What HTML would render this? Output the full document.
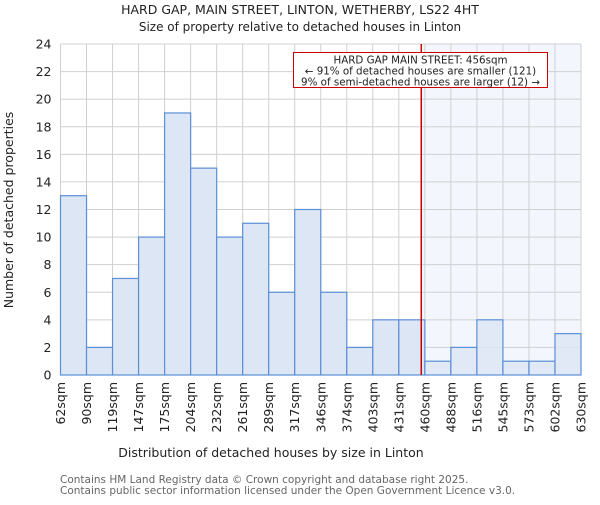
<!DOCTYPE html>
<html><head><meta charset="utf-8"><style>
body{margin:0;background:#fff;}
svg text{font-family:"DejaVu Sans","Liberation Sans",sans-serif;fill:#222;}
</style></head><body>
<svg id="chart" width="600" height="500">
<text x="300" y="14" text-anchor="middle" font-size="12.5">HARD GAP, MAIN STREET, LINTON, WETHERBY, LS22 4HT</text>
<text x="300" y="31" text-anchor="middle" font-size="12">Size of property relative to detached houses in Linton</text>
<g id="plot"></g>
<text x="271" y="457" text-anchor="middle" font-size="12.5">Distribution of detached houses by size in Linton</text>
<text transform="translate(13,210) rotate(-90)" text-anchor="middle" font-size="12.5">Number of detached properties</text>
<text x="60" y="483" font-size="10.5" style="fill:#666">Contains HM Land Registry data © Crown copyright and database right 2025.</text>
<text x="60" y="494" font-size="10.5" style="fill:#666">Contains public sector information licensed under the Open Government Licence v3.0.</text>
</svg>
<script>
const binEdges=[62,90,119,147,175,204,232,261,289,317,346,374,403,431,460,488,516,545,573,602,630];
const counts=[13,2,7,10,19,15,10,11,6,12,6,2,4,4,1,2,4,1,1,3];
const yTicks=[0,2,4,6,8,10,12,14,16,18,20,22,24];
const markerValue=456;
const annotationLines=["HARD GAP MAIN STREET: 456sqm","← 91% of detached houses are smaller (121)","9% of semi-detached houses are larger (12) →"];
const NS="http://www.w3.org/2000/svg";
const g=document.getElementById('plot');
const X0=60.5,X1=581,Y0=375,Y1=44;
const nb=counts.length;
const xi=i=>X0+(X1-X0)*i/nb;
const xv=v=>{for(let i=0;i<nb;i++){if(v<=binEdges[i+1])return xi(i)+(v-binEdges[i])/(binEdges[i+1]-binEdges[i])*(X1-X0)/nb;}return X1;};
const y=v=>Y0-(Y0-Y1)*v/24;
function mk(t,a){const e=document.createElementNS(NS,t);for(const k in a)e.setAttribute(k,a[k]);g.appendChild(e);return e;}
const mx=xv(markerValue);
let e=mk('rect',{x:mx,y:Y1,width:X1-mx,height:Y0-Y1,fill:'#f3f6fd'});


yTicks.forEach(t=>{let l=mk('line',{x1:X0,x2:X1,y1:y(t),y2:y(t),stroke:'#d0d0d0','stroke-width':1});


let tx=mk('text',{x:X0-9,y:y(t)+4.5,'text-anchor':'end','font-size':'12.5'});tx.textContent=t;

});
binEdges.forEach((b,i)=>{let l=mk('line',{x1:xi(i),x2:xi(i),y1:Y1,y2:Y0,stroke:'#d0d0d0','stroke-width':1});


let tx=mk('text',{transform:`translate(${xi(i)+4.5},382) rotate(-90)`,'text-anchor':'end','font-size':'12.5'});tx.textContent=b+'sqm';

});
counts.forEach((c,i)=>{let r=mk('rect',{x:xi(i),y:y(c),width:(X1-X0)/nb,height:Y0-y(c),fill:'#dce6f4','fill-opacity':binEdges[i]>=markerValue?0.8:1,stroke:'#5b8fd6','stroke-width':1.2});

});
e=mk('line',{x1:mx,x2:mx,y1:Y1,y2:Y0,stroke:'#cc0000','stroke-width':1.5});


e=mk('rect',{x:293.5,y:52.5,width:254,height:35,fill:'#fff',stroke:'#cc0000','stroke-width':1});


annotationLines.forEach((s,i)=>{let t=mk('text',{x:420.5,y:63.5+i*11,'text-anchor':'middle','font-size':'10.3'});t.textContent=s;

});
</script>
</body></html>
